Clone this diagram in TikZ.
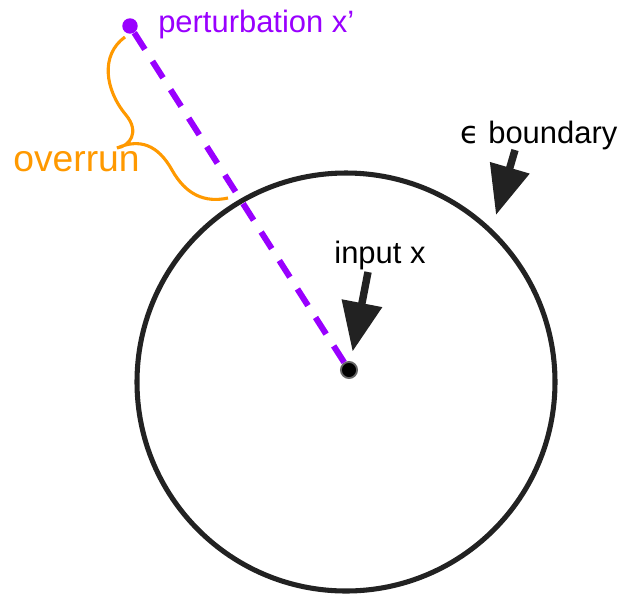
\documentclass[tikz,border=0pt]{standalone}
\usepackage{fontspec}
\setmainfont{Liberation Sans}
\newfontfamily\epsfont{DejaVu Sans}
\usetikzlibrary{arrows.meta,positioning}
\definecolor{pertpurple}{RGB}{153,0,255}
\definecolor{overorange}{RGB}{255,153,0}
\definecolor{inkgray}{RGB}{34,34,34}

\begin{document}
\begin{tikzpicture}[
  x=0.025cm, y=-0.025cm,
  lbl/.style={inner sep=0pt, font=\fontsize{22}{26}\selectfont},
  bigarrow/.style={line width=5.3pt, inkgray, -{Triangle[length=35pt,width=28pt]}},
  pdot/.style={circle, fill=pertpurple, inner sep=0pt, minimum size=11pt},
  xdot/.style={circle, fill=black, draw=black!60, line width=1.3pt, inner sep=0pt, minimum size=11.5pt}
]
\useasboundingbox (0,0) rectangle (625,595);

% epsilon ball
\draw[inkgray, line width=3.6pt] (346,382) circle (209);

% points
\node[xdot] (inp) at (349,370) {};
\node[pdot] (pert) at (130,26) {};

% perturbation direction
\draw[pertpurple, line width=4.3pt, dash pattern=on 14pt off 10pt] (pert) -- (inp);

% labels
\node[lbl, pertpurple, anchor=west] (pertlbl) at (158,24) {perturbation x’};
\node[lbl, anchor=center] (inlbl) at (380,255) {input x};
\node[lbl, anchor=center] (bdlbl) at (539,135) {{\epsfont ϵ} boundary};
\node[lbl, overorange, font=\fontsize{26.5}{30}\selectfont, anchor=west] (ovlbl) at (13,162) {overrun};

% arrows
\coordinate (intail) at (368,272);
\coordinate (bdtail) at (515,150);
\coordinate (bdtip) at (496,215);
\draw[bigarrow, shorten >=7pt] (intail) -- (inp);
\draw[bigarrow] (bdtail) -- (bdtip);

% brace
\draw[overorange, line width=2.2pt] (125,37) .. controls (100,55) and (105,90) .. (126,115)
  .. controls (140,132) and (130,146) .. (117,148)
  .. controls (140,138) and (158,145) .. (172,170)
  .. controls (186,195) and (205,203) .. (228,198);
\end{tikzpicture}
\end{document}
